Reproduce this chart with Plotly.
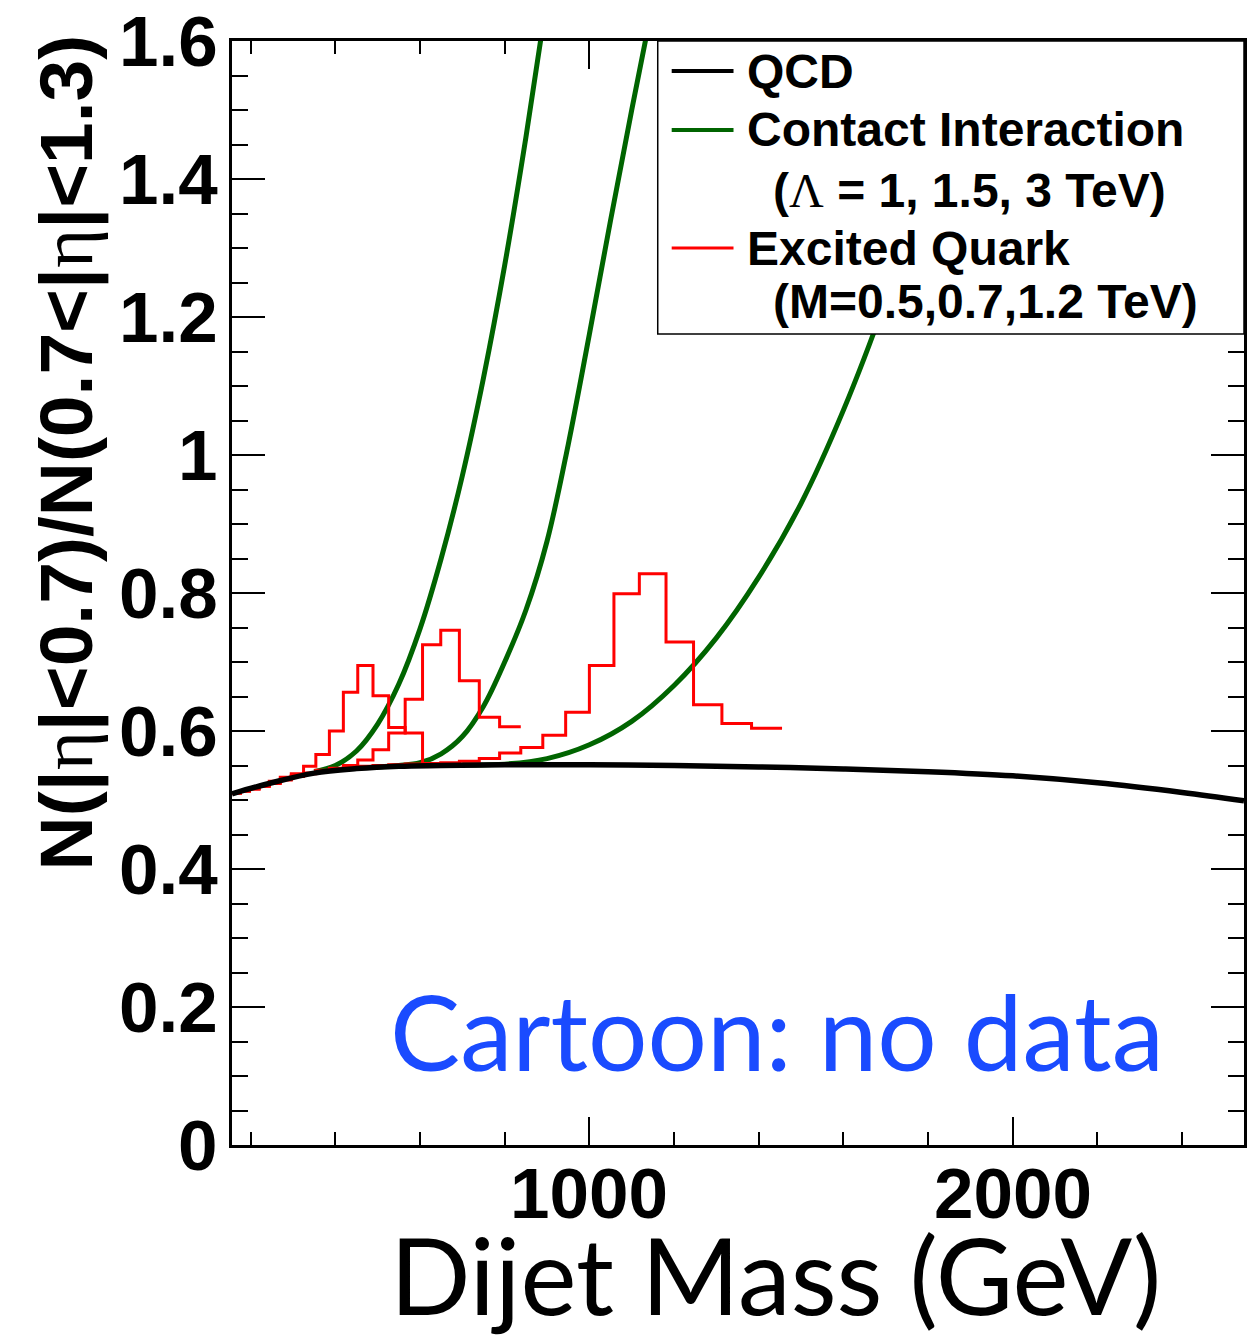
import plotly.graph_objects as go

# Dijet mass bin edges (GeV)
bin_edges = [156, 176, 197, 220, 244, 270, 296, 325, 354, 386, 419, 453, 489, 526,
             565, 606, 649, 693, 740, 788, 838, 890, 944, 1000, 1058, 1118, 1181,
             1246, 1313, 1383, 1455]

# Excited quark histograms (bin contents, starting from the first edge)
q_star_500 = [0.510, 0.513, 0.517, 0.521, 0.527, 0.533, 0.538, 0.549, 0.566, 0.600,
              0.656, 0.695, 0.651, 0.605, 0.597, 0.553]
q_star_700 = [0.510, 0.513, 0.516, 0.520, 0.525, 0.530, 0.535, 0.539, 0.543, 0.546,
              0.550, 0.558, 0.573, 0.597, 0.646, 0.725, 0.746, 0.673, 0.620, 0.606]
q_star_1200 = [0.510, 0.513, 0.516, 0.520, 0.524, 0.529, 0.534, 0.538, 0.542, 0.545,
               0.547, 0.549, 0.550, 0.551, 0.552, 0.553, 0.554, 0.556, 0.560, 0.568,
               0.576, 0.594, 0.627, 0.695, 0.799, 0.828, 0.729, 0.638, 0.611, 0.604]

# QCD ratio
qcd_mass = [156, 250, 350, 450, 550, 650, 800, 1000, 1200, 1400, 1600, 1800, 2000,
            2200, 2400, 2546]
qcd_ratio = [0.509, 0.525, 0.539, 0.5455, 0.549, 0.550, 0.551, 0.551, 0.550, 0.548,
             0.545, 0.541, 0.535, 0.525, 0.511, 0.499]

# Contact interaction curves (Lambda = 1, 1.5, 3 TeV)
ci1_mass = [350, 400, 450, 500, 550, 600, 650, 700, 750, 800, 850, 900]
ci1_ratio = [0.541, 0.550, 0.571, 0.610, 0.668, 0.748, 0.850, 0.970, 1.112, 1.275,
             1.460, 1.662]
ci15_mass = [500, 550, 600, 650, 700, 750, 800, 850, 900, 950, 1000, 1050, 1100, 1150]
ci15_ratio = [0.548, 0.550, 0.554, 0.567, 0.592, 0.636, 0.700, 0.775, 0.875, 1.015,
              1.175, 1.340, 1.500, 1.655]
ci3_mass = [700, 800, 900, 1000, 1100, 1200, 1300, 1400, 1500, 1600, 1700, 1800, 1900]
ci3_ratio = [0.551, 0.552, 0.560, 0.580, 0.614, 0.666, 0.735, 0.823, 0.930, 1.065,
             1.225, 1.410, 1.620]

x_ticks = [1000, 2000]
x_tick_text = ["1000", "2000"]
y_ticks = [0, 0.2, 0.4, 0.6, 0.8, 1.0, 1.2, 1.4, 1.6]
y_tick_text = ["0", "0.2", "0.4", "0.6", "0.8", "1", "1.2", "1.4", "1.6"]

GREEN = "#006400"
RED = "#ff0000"
BLUE = "#1a4bff"
W, H = 1249, 1336
PL, PR, PT, PB = 232, 1247, 41, 1145


def fx(p):
    return (p - PL) / (PR - PL)


def fy(p):
    return (PB - p) / (PB - PT)


def hist_xy(contents):
    xs = bin_edges[:len(contents) + 1]
    ys = list(contents) + [contents[-1]]
    return xs, ys


fig = go.Figure()
for mx, ry in [(ci1_mass, ci1_ratio), (ci15_mass, ci15_ratio), (ci3_mass, ci3_ratio)]:
    fig.add_trace(go.Scatter(x=mx, y=ry, mode="lines",
                             line=dict(color=GREEN, width=5, shape="spline", smoothing=1.0),
                             showlegend=False, hoverinfo="skip"))
for h in [q_star_500, q_star_700, q_star_1200]:
    hx, hy = hist_xy(h)
    fig.add_trace(go.Scatter(x=hx, y=hy, mode="lines", line=dict(color=RED, width=3, shape="hv"),
                             showlegend=False, hoverinfo="skip"))
fig.add_trace(go.Scatter(x=qcd_mass, y=qcd_ratio, mode="lines",
                         line=dict(color="black", width=5.5, shape="spline", smoothing=1.0),
                         showlegend=False, hoverinfo="skip"))

fig.update_xaxes(range=[156, 2546], tickvals=x_ticks, showticklabels=False,
                 ticks="inside", ticklen=28, tickwidth=2, tickcolor="black",
                 minor=dict(dtick=200, tick0=0, ticks="inside", ticklen=13, tickwidth=2, tickcolor="black"),
                 showline=True, linewidth=2.5, linecolor="black", mirror="allticks",
                 showgrid=False, zeroline=False)
fig.update_yaxes(range=[0, 1.6], tickvals=y_ticks, showticklabels=False,
                 ticks="inside", ticklen=33, tickwidth=2, tickcolor="black",
                 minor=dict(dtick=0.05, tick0=0, ticks="inside", ticklen=16, tickwidth=2, tickcolor="black"),
                 showline=True, linewidth=2.5, linecolor="black", mirror="allticks",
                 showgrid=False, zeroline=False)

shapes = [
    dict(type="rect", xref="paper", yref="paper", x0=fx(659), x1=1.0, y0=fy(334), y1=1.0,
         fillcolor="white", line=dict(color="black", width=1.5), layer="above"),
    dict(type="line", xref="paper", yref="paper", x0=fx(673), x1=fx(735), y0=fy(71), y1=fy(71),
         line=dict(color="black", width=4)),
    dict(type="line", xref="paper", yref="paper", x0=fx(673), x1=fx(735), y0=fy(130), y1=fy(130),
         line=dict(color=GREEN, width=4)),
    dict(type="line", xref="paper", yref="paper", x0=fx(673), x1=fx(735), y0=fy(248), y1=fy(248),
         line=dict(color=RED, width=3)),
]

tick_font = dict(family="Liberation Sans", size=71, color="black", weight="bold")
annotations = []
for v, t in zip(x_ticks, x_tick_text):
    annotations.append(dict(text=t, xref="x", yref="paper", x=v, y=fy(1193),
                            xanchor="center", yanchor="middle", showarrow=False, font=tick_font))
for v, t in zip(y_ticks, y_tick_text):
    annotations.append(dict(text=t, xref="paper", yref="y", x=fx(220), y=v,
                            xanchor="right", yanchor="middle", showarrow=False, font=tick_font))

leg_font = dict(family="Liberation Sans", size=48, color="black", weight="bold")
lam = "<span style='font-family:Liberation Serif;font-weight:normal'>Λ</span>"
eta = "<span style='font-family:Liberation Serif;font-weight:normal'>η</span>"
legend_rows = [
    ("QCD", 747, 71),
    ("Contact Interaction", 747, 130),
    ("(" + lam + " = 1, 1.5, 3 TeV)", 773, 190),
    ("Excited Quark", 747, 249),
    ("(M=0.5,0.7,1.2 TeV)", 773, 301),
]
for txt, lx, ly in legend_rows:
    annotations.append(dict(text=txt, xref="paper", yref="paper", x=fx(lx), y=fy(ly),
                            xanchor="left", yanchor="middle", showarrow=False, font=leg_font))

annotations.append(dict(
    text="N(|" + eta + "|&lt;0.7)/N(0.7&lt;|" + eta + "|&lt;1.3)",
    xref="paper", yref="paper", x=fx(66), y=fy(452), textangle=-90,
    xanchor="center", yanchor="middle", showarrow=False,
    font=dict(family="Liberation Sans", size=75, color="black", weight="bold")))
annotations.append(dict(
    text="Cartoon: no data", xref="paper", yref="paper", x=fx(779), y=fy(1030),
    xanchor="center", yanchor="middle", showarrow=False,
    font=dict(family="Lato", size=105, color=BLUE)))
annotations.append(dict(
    text="Dijet Mass (GeV)", xref="paper", yref="paper", x=fx(777), y=fy(1274),
    xanchor="center", yanchor="middle", showarrow=False,
    font=dict(family="Lato", size=106, color="black")))

fig.update_layout(width=W, height=H, margin=dict(l=PL, r=W - PR, t=PT, b=H - PB),
                  plot_bgcolor="white", paper_bgcolor="white", showlegend=False,
                  shapes=shapes, annotations=annotations)

fig.write_html("out.html")
